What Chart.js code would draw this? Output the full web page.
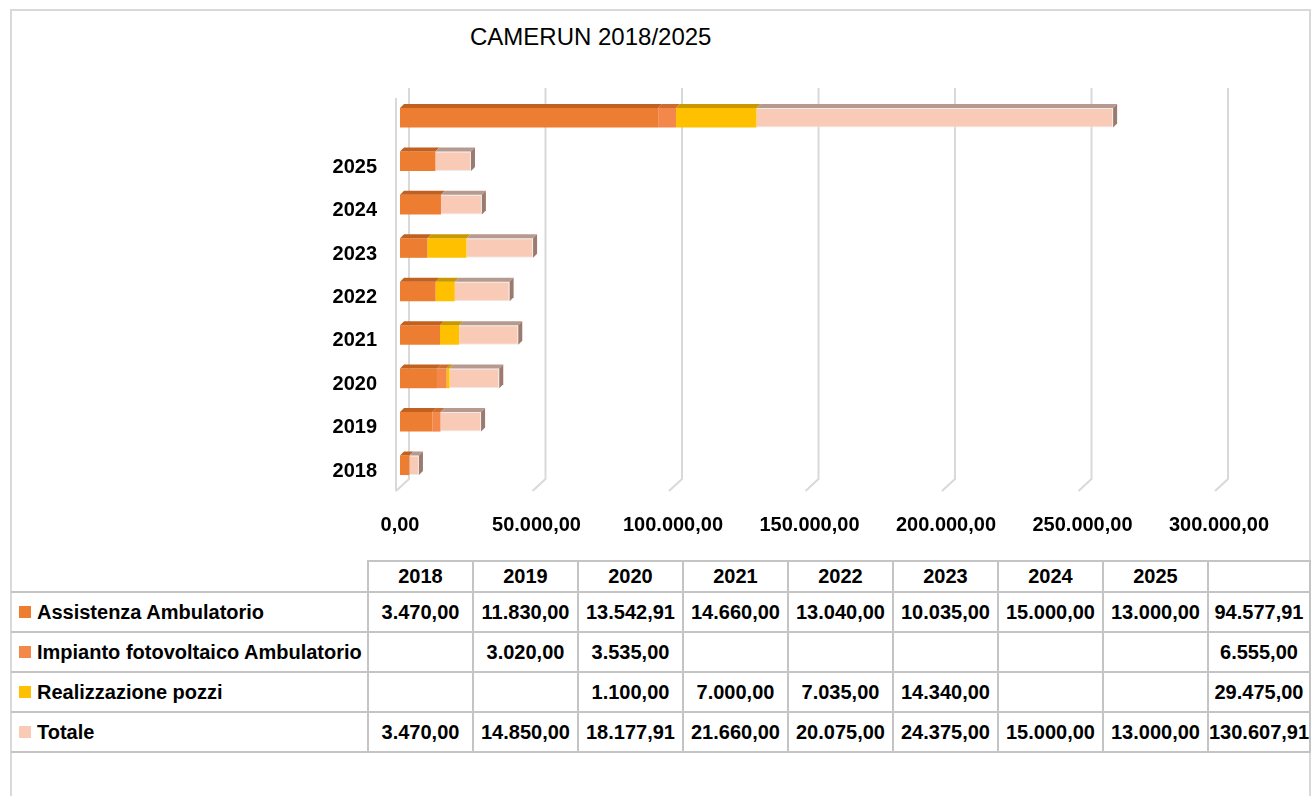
<!DOCTYPE html>
<html lang="it">
<head>
<meta charset="utf-8">
<title>Camerun 2018/2025</title>
<script src="https://cdn.jsdelivr.net/npm/chart.js@4.4.1/dist/chart.umd.min.js"></script>
<style>
  body {
    margin: 0;
    width: 1311px;
    height: 796px;
    overflow: hidden;
    position: relative;
    background: #fff;
    font-family: "Liberation Sans", Arial, sans-serif;
  }
  #cornice {
    position: absolute;
    left: 10px;
    top: 9px;
    width: 1297px;
    height: 800px;
    border: 2px solid #d9d9d9;
  }
  #titolo {
    position: absolute;
    left: 470px;
    top: 23px;
    font-size: 24px;
    line-height: 28px;
    color: #000;
  }
  #box {
    position: absolute;
    left: 0;
    top: 0;
    width: 1311px;
    height: 550px;
  }
  #tabella {
    position: absolute;
    left: 11px;
    top: 560px;
    width: 1299px;
    border-collapse: collapse;
    table-layout: fixed;
  }
  #tabella td {
    border: 2px solid #c4c4c4;
    padding: 0;
    font-size: 20px;
    font-weight: bold;
    text-align: center;
    color: #000;
    white-space: nowrap;
    height: 38px;
  }
  #tabella tr:first-child td { height: 29px; }
  #tabella td.nome { text-align: left; padding-left: 8px; border-left: none; }
  #tabella tr:first-child td.nome { border-top: none; }
  .quadretto {
    display: inline-block;
    width: 12px;
    height: 12px;
    margin-right: 6px;
    vertical-align: 1px;
  }
</style>
</head>
<body>
<div id="cornice"></div>
<div id="titolo">CAMERUN 2018/2025</div>
<div id="box"><canvas id="grafico"></canvas></div>
<table id="tabella"></table>

<script>
// anni del progetto
const anni = ["2018", "2019", "2020", "2021", "2022", "2023", "2024", "2025"];

// importi per anno
const assistenza = [3470, 11830, 13542.91, 14660, 13040, 10035, 15000, 13000];
const fotovoltaico = [null, 3020, 3535, null, null, null, null, null];
const pozzi = [null, null, 1100, 7000, 7035, 14340, null, null];
const totale = [3470, 14850, 18177.91, 21660, 20075, 24375, 15000, 13000];

// ultima colonna della tabella = barra senza etichetta in cima
const totaliSerie = [94577.91, 6555, 29475, 130607.91];

// tacche asse x
const tickAsse = [0, 50000, 100000, 150000, 200000, 250000, 300000];

const nomiSerie = ["Assistenza Ambulatorio", "Impianto fotovoltaico Ambulatorio", "Realizzazione pozzi", "Totale"];
const colori = ["#ED7D31", "#F3884A", "#FFC000", "#F9CAB5"];
const coloriSopra = ["#C2611F", "#CF6A30", "#C99700", "#B69A8F"];
const coloreFianco = "#9C7A6E";

// 1234.5 -> "1.234,50"
function formatta(v) {
  const parti = v.toFixed(2).split(".");
  return parti[0].replace(/\B(?=(\d{3})+(?!\d))/g, ".") + "," + parti[1];
}

const serie = [assistenza, fotovoltaico, pozzi, totale];
const etichette = [...anni, ""];

// griglia "3D": parete di fondo + pavimento inclinato
const pareti = {
  id: "pareti",
  beforeDatasetsDraw(chart) {
    const { ctx, chartArea, scales } = chart;
    const x = scales.x;
    ctx.save();
    ctx.strokeStyle = "#d9d9d9";
    ctx.lineWidth = 2;
    x.ticks.forEach(t => {
      const px = x.getPixelForValue(t.value);
      ctx.beginPath();
      ctx.moveTo(px + 9, chartArea.top - 8);
      ctx.lineTo(px + 9, chartArea.bottom - 8);
      ctx.lineTo(px - 4, chartArea.bottom + 4);
      ctx.stroke();
    });
    const x0 = x.getPixelForValue(0);
    ctx.beginPath();
    ctx.moveTo(x0 - 4, chartArea.top + 2);
    ctx.lineTo(x0 - 4, chartArea.bottom + 4);
    ctx.stroke();
    ctx.restore();
  }
};

// faccia superiore e fianco delle barre
const cubetti = {
  id: "cubetti",
  afterDatasetsDraw(chart) {
    const ctx = chart.ctx;
    const d = 4;
    const n = chart.data.datasets.length;
    for (let i = 0; i < n; i++) {
      const ds = chart.data.datasets[i];
      chart.getDatasetMeta(i).data.forEach((barra, j) => {
        if (!ds.data[j]) return;
        const p = barra.getProps(["x", "y", "base", "height"], true);
        const sx = Math.min(p.x, p.base);
        const dx = Math.max(p.x, p.base);
        const su = p.y - p.height / 2;
        const giu = p.y + p.height / 2;
        ctx.save();
        ctx.fillStyle = coloriSopra[i];
        ctx.beginPath();
        ctx.moveTo(sx, su);
        ctx.lineTo(sx + d, su - d);
        ctx.lineTo(dx + d, su - d);
        ctx.lineTo(dx, su);
        ctx.closePath();
        ctx.fill();
        if (i === n - 1) {
          ctx.fillStyle = coloreFianco;
          ctx.beginPath();
          ctx.moveTo(dx, su);
          ctx.lineTo(dx + d, su - d);
          ctx.lineTo(dx + d, giu - d);
          ctx.lineTo(dx, giu);
          ctx.closePath();
          ctx.fill();
        }
        ctx.restore();
      });
    }
  }
};

const fontAssi = { family: "'Liberation Sans', Arial, sans-serif", size: 20, weight: "bold" };

new Chart(document.getElementById("grafico"), {
  type: "bar",
  data: {
    labels: etichette,
    datasets: serie.map((s, i) => ({
      label: nomiSerie[i],
      data: [...s, totaliSerie[i]],
      backgroundColor: colori[i],
      borderColor: i === 3 ? "#ececec" : colori[i],
      borderWidth: i === 3 ? 1 : 0,
      barPercentage: 0.45,
      categoryPercentage: 1
    }))
  },
  options: {
    indexAxis: "y",
    responsive: true,
    maintainAspectRatio: false,
    animation: false,
    layout: { padding: { top: 96, right: 92, left: 0, bottom: 0 } },
    scales: {
      x: {
        stacked: true,
        min: 0,
        max: 300000,
        grid: { display: false, drawTicks: false },
        border: { display: false },
        afterBuildTicks: scale => { scale.ticks = tickAsse.map(v => ({ value: v })); },
        afterFit: scale => { scale.height = 63; },
        ticks: {
          padding: 26,
          color: "#000",
          font: fontAssi,
          maxRotation: 0,
          callback: v => formatta(v)
        }
      },
      y: {
        stacked: true,
        reverse: true,
        grid: { display: false, drawTicks: false },
        border: { display: false },
        afterFit: scale => { scale.width = 400; },
        ticks: {
          padding: 23,
          labelOffset: 6,
          color: "#000",
          font: fontAssi
        }
      }
    },
    plugins: {
      legend: { display: false },
      tooltip: { enabled: false }
    }
  },
  plugins: [pareti, cubetti]
});

// tabella dati sotto il grafico
const tabella = document.getElementById("tabella");
let html = "<colgroup><col style='width:357px'>";
anni.forEach(() => { html += "<col style='width:105px'>"; });
html += "<col style='width:102px'></colgroup>";
html += "<tr><td class='nome'></td>" + anni.map(a => "<td>" + a + "</td>").join("") + "<td></td></tr>";
serie.forEach((s, i) => {
  html += "<tr><td class='nome'><span class='quadretto' style='background:" + colori[i] + "'></span>" + nomiSerie[i] + "</td>";
  s.forEach(v => { html += "<td>" + (v == null ? "" : formatta(v)) + "</td>"; });
  html += "<td>" + formatta(totaliSerie[i]) + "</td></tr>";
});
tabella.innerHTML = html;
</script>
</body>
</html>
